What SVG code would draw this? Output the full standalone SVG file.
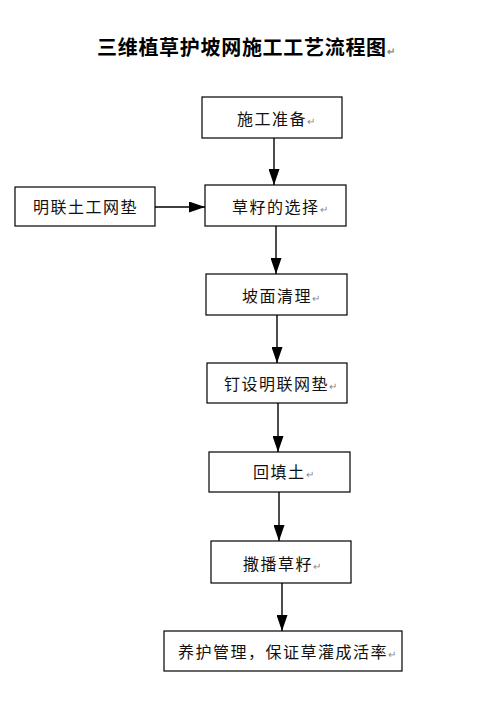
<svg xmlns="http://www.w3.org/2000/svg" width="488" height="706" viewBox="0 0 488 706">
<style>
.box{fill:#fff;stroke:#000;stroke-width:1.2}
.t{font-family:"Noto Sans CJK SC","Noto Sans",sans-serif;font-size:16px;letter-spacing:1.5px;fill:#111}
.title{font-family:"Noto Sans CJK SC","Noto Sans",sans-serif;font-size:20px;font-weight:bold;letter-spacing:0.7px;fill:#000}
.rm{font-size:10px;fill:#888;letter-spacing:0}
.c{stroke:#000;stroke-width:1.4;fill:none;marker-end:url(#ah)}
</style>
<defs>
<marker id="ah" viewBox="0 0 16 11" refX="16" refY="5.5" markerWidth="16" markerHeight="11" orient="auto" markerUnits="userSpaceOnUse">
<path d="M0,0 L16,5.5 L0,11 z" fill="#000"/>
</marker>
</defs>
<rect width="488" height="706" fill="#fff"/>
<text class="title" x="97" y="55">三维植草护坡网施工工艺流程图<tspan class="rm">↵</tspan></text>
<g id="connectors">
<line class="c" x1="274" y1="138" x2="274" y2="185"/>
<line class="c" x1="155" y1="207" x2="205" y2="207"/>
<line class="c" x1="276" y1="226" x2="276" y2="274"/>
<line class="c" x1="277" y1="315" x2="277" y2="363"/>
<line class="c" x1="278" y1="403" x2="278" y2="452"/>
<line class="c" x1="279" y1="492" x2="279" y2="541"/>
<line class="c" x1="282" y1="583" x2="282" y2="631"/>
</g>
<g id="n1"><rect class="box" x="202" y="97" width="140" height="41"/><text class="t" x="237" y="125">施工准备<tspan class="rm">↵</tspan></text></g>
<g id="n0"><rect class="box" x="15" y="187" width="140" height="39"/><text class="t" x="33" y="213">明联土工网垫</text></g>
<g id="n2"><rect class="box" x="205" y="185" width="141" height="41"/><text class="t" x="232" y="213">草籽的选择<tspan class="rm">↵</tspan></text></g>
<g id="n3"><rect class="box" x="206" y="274" width="141" height="41"/><text class="t" x="242" y="302">坡面清理<tspan class="rm">↵</tspan></text></g>
<g id="n4"><rect class="box" x="207" y="363" width="140" height="40"/><text class="t" x="224" y="390">钉设明联网垫<tspan class="rm">↵</tspan></text></g>
<g id="n5"><rect class="box" x="209" y="452" width="141" height="40"/><text class="t" x="253" y="478">回填土<tspan class="rm">↵</tspan></text></g>
<g id="n6"><rect class="box" x="211" y="541" width="140" height="42"/><text class="t" x="243" y="570">撒播草籽<tspan class="rm">↵</tspan></text></g>
<g id="n7"><rect class="box" x="164" y="631" width="238" height="40"/><text class="t" x="178" y="658">养护管理，保证草灌成活率<tspan class="rm">↵</tspan></text></g>
</svg>
